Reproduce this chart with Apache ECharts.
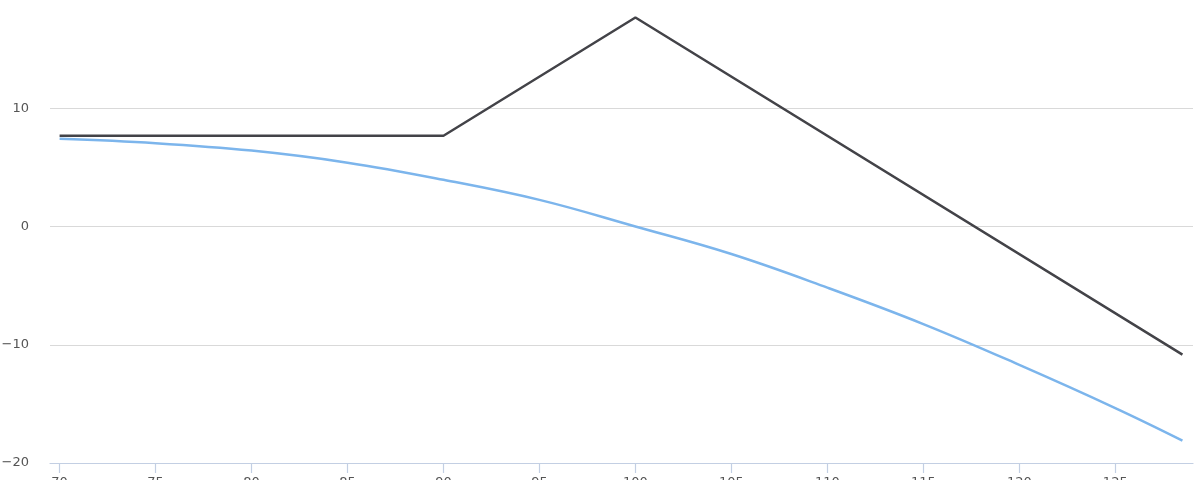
<!DOCTYPE html>
<html>
<head>
<meta charset="utf-8">
<script src="https://cdn.jsdelivr.net/npm/echarts@6/dist/echarts.min.js"></script>
<style>
  html, body { margin: 0; padding: 0; background: #fff; }
  #myCharts { width: 1200px; height: 480px; }
</style>
</head>
<body>
<div id="myCharts"></div>
<script>
// payoff at expiry (corners only)
const payoffX = [70, 90, 100, 128.5]
const payoffY = [7.67, 7.67, 17.67, -10.83]

// value today
const curveX = [70, 75, 80, 85, 90, 95, 100, 105, 110, 115, 120, 125, 128.5]
const curveY = [7.42, 7.05, 6.42, 5.4, 3.95, 2.25, 0, -2.33, -5.17, -8.25, -11.7, -15.35, -18.1]

const xTicks = [70, 75, 80, 85, 90, 95, 100, 105, 110, 115, 120, 125]

const labelFont = {
  color: '#555555',
  fontSize: 13,
  fontFamily: '"DejaVu Sans", "Open Sans", sans-serif'
}

const myCharts = echarts.init(document.getElementById('myCharts'))

const option = {
  animation: false,
  grid: {
    left: 50,
    right: 7,
    top: -10,
    bottom: 17,
    containLabel: false,
    outerBoundsMode: 'none'
  },
  xAxis: {
    type: 'value',
    min: 69.5,
    max: 129.05,
    z: 5,
    axisLine: { show: true, onZero: false, lineStyle: { color: '#c3cfe3', width: 1.2 } },
    axisTick: {
      show: true,
      length: 10,
      customValues: xTicks,
      lineStyle: { color: '#c3cfe3', width: 1.2 }
    },
    axisLabel: Object.assign({ margin: 13, customValues: xTicks }, labelFont),
    splitLine: { show: false }
  },
  yAxis: {
    type: 'value',
    min: -20,
    max: 20,
    interval: 10,
    axisLine: { show: false },
    axisTick: { show: false },
    axisLabel: Object.assign({
      margin: 21,
      formatter: v => String(v).replace('-', '\u2212')
    }, labelFont),
    splitLine: { show: true, lineStyle: { color: '#d9d9d9', width: 1.2 } }
  },
  series: [
    {
      name: 'value',
      type: 'line',
      data: curveX.map((x, i) => [x, curveY[i]]),
      smooth: 0.4,
      showSymbol: false,
      lineStyle: { color: '#7cb5ec', width: 2.5 },
      itemStyle: { color: '#7cb5ec' }
    },
    {
      name: 'payoff',
      type: 'line',
      data: payoffX.map((x, i) => [x, payoffY[i]]),
      showSymbol: false,
      lineStyle: { color: '#434348', width: 2.5 },
      itemStyle: { color: '#434348' }
    }
  ]
}

myCharts.setOption(option)
</script>
</body>
</html>
